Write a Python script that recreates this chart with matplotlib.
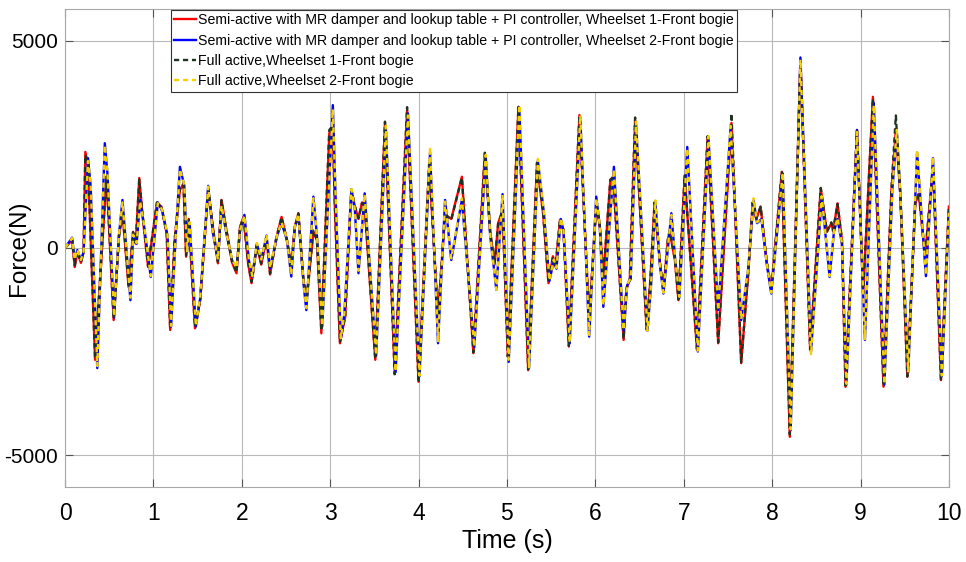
import matplotlib
matplotlib.use("Agg")
import matplotlib.pyplot as plt

# lateral force on the front bogie wheelsets
# wheelset 1 (semi-active red, full active dark green)
t_w1 = [0.00, 0.08, 0.11, 0.14, 0.18, 0.21, 0.23, 0.26, 0.34, 0.47, 0.55, 0.61, 0.65, 0.72,
        0.77, 0.80, 0.84, 0.88, 0.94, 1.04, 1.09, 1.15, 1.19, 1.24, 1.30, 1.34, 1.37, 1.40,
        1.47, 1.53, 1.62, 1.68, 1.73, 1.77, 1.83, 1.89, 1.94, 1.98, 2.02, 2.07, 2.11, 2.17,
        2.22, 2.28, 2.32, 2.39, 2.45, 2.51, 2.56, 2.60, 2.64, 2.70, 2.74, 2.81, 2.85, 2.90,
        2.99, 3.03, 3.05, 3.11, 3.17, 3.24, 3.28, 3.32, 3.36, 3.39, 3.51, 3.62, 3.73, 3.87,
        4.00, 4.12, 4.22, 4.30, 4.37, 4.49, 4.62, 4.75, 4.81, 4.86, 4.90, 4.95, 5.01, 5.13,
        5.24, 5.34, 5.41, 5.47, 5.52, 5.55, 5.60, 5.64, 5.70, 5.82, 5.93, 6.01, 6.05, 6.09,
        6.17, 6.20, 6.32, 6.35, 6.39, 6.45, 6.58, 6.62, 6.67, 6.73, 6.77, 6.82, 6.84, 6.90,
        6.94, 7.01, 7.15, 7.27, 7.39, 7.54, 7.65, 7.73, 7.78, 7.82, 7.87, 7.94, 7.99, 8.11,
        8.20, 8.32, 8.43, 8.55, 8.62, 8.67, 8.69, 8.74, 8.79, 8.83, 8.96, 9.03, 9.14, 9.26,
        9.35, 9.40, 9.45, 9.53, 9.62, 9.66, 9.73, 9.82, 9.91, 10.0]
semi_w1 = [0, 190, -460, -100, -360, -100, 2320, 2000, -2700, 1720, -1740, 270, 840, -950,
           390, 110, 1690, 720, -460, 1090, 1000, 350, -1980, 190, 1400, 1560, -210, 700,
           -1940, -1260, 1400, 390, -370, 1160, 390, -350, -610, 510, 750, -350, -850, 50,
           -400, 230, -640, 230, 750, 190, -400, 520, 840, -850, -1100, 390, 190, -2060,
           2770, 2900, 1160, -2300, -1660, 1400, 1000, 700, 1100, 1000, -2700, 3020, -3020, 3330,
           -3230, 2000, -1620, 800, 700, 1720, -2540, 2290, 390, -400, 600, 900, -2630, 3410,
           -2950, 2050, 800, -850, -200, -450, 680, 430, -2380, 3210, -1700, 1000, 540, -700,
           1640, 1720, -2220, -1000, -760, 3090, -1980, -860, 1090, -350, -1010, 190, 400, -290,
           -1260, 1720, -2460, 2680, -2300, 3020, -2780, -610, 1090, 700, 990, -350, -1010, 1840,
           -4560, 4540, -2460, 1440, 390, 600, 400, 1080, 190, -3350, 2850, -1090, 3650, -3350,
           1400, 2850, 1300, -3110, 1080, 1300, -210, 1950, -3190, 1000]
full_w1 = [0, 200, -420, -80, -340, -80, 2250, 2050, -2650, 1750, -1700, 280, 900, -900,
           380, 120, 1650, 740, -440, 1100, 980, 360, -1950, 200, 1450, 1540, -180, 680,
           -1900, -1230, 1420, 400, -350, 1150, 380, -330, -590, 500, 740, -330, -820, 60,
           -380, 240, -620, 240, 740, 200, -420, 500, 830, -830, -1150, 420, 200, -2000,
           2850, 2950, 1200, -2280, -1640, 1420, 1000, 720, 1080, 1020, -2680, 3050, -3050, 3400,
           -3250, 2050, -1650, 820, 680, 1700, -2520, 2300, 400, -380, 580, 900, -2620, 3400,
           -2930, 2060, 820, -830, -220, -430, 700, 440, -2360, 3200, -1720, 1020, 560, -720,
           1650, 1700, -2200, -980, -740, 3150, -1960, -840, 1100, -330, -990, 200, 420, -270,
           -1240, 1750, -2440, 2700, -2280, 3250, -2760, -600, 1100, 720, 1000, -330, -990, 1850,
           -4500, 4520, -2440, 1450, 400, 620, 420, 1060, 200, -3320, 2860, -1100, 3600, -3320,
           1420, 3200, 1320, -3100, 1100, 1320, -200, 1980, -3170, 1000]

# wheelset 2 (semi-active blue, full active yellow)
t_w2 = [0.00, 0.08, 0.11, 0.14, 0.18, 0.21, 0.26, 0.29, 0.365, 0.45, 0.48, 0.555, 0.61, 0.65,
        0.74, 0.77, 0.81, 0.85, 0.89, 0.97, 1.05, 1.10, 1.16, 1.20, 1.25, 1.30, 1.35, 1.38,
        1.41, 1.48, 1.53, 1.62, 1.67, 1.73, 1.77, 1.83, 1.89, 1.94, 1.98, 2.03, 2.08, 2.12,
        2.17, 2.22, 2.28, 2.32, 2.40, 2.45, 2.51, 2.56, 2.60, 2.64, 2.70, 2.73, 2.81, 2.85,
        2.91, 3.03, 3.06, 3.12, 3.16, 3.24, 3.28, 3.32, 3.39, 3.52, 3.63, 3.74, 3.88, 4.01,
        4.13, 4.22, 4.30, 4.37, 4.49, 4.63, 4.76, 4.81, 4.88, 4.95, 5.02, 5.14, 5.25, 5.35,
        5.42, 5.48, 5.53, 5.56, 5.61, 5.64, 5.71, 5.83, 5.93, 6.01, 6.05, 6.09, 6.21, 6.32,
        6.36, 6.40, 6.46, 6.59, 6.63, 6.68, 6.73, 6.77, 6.83, 6.86, 6.90, 6.95, 7.04, 7.16,
        7.28, 7.39, 7.53, 7.65, 7.73, 7.79, 7.83, 7.88, 7.94, 7.99, 8.12, 8.21, 8.32, 8.44,
        8.56, 8.60, 8.65, 8.70, 8.74, 8.79, 8.84, 8.96, 9.05, 9.15, 9.27, 9.36, 9.41, 9.45,
        9.54, 9.64, 9.74, 9.82, 9.92, 10.0]
semi_w2 = [0, 250, -300, -50, -300, -100, 2170, 1500, -2900, 2530, 1800, -1680, 300, 1160,
           -1260, 300, 100, 1160, 600, -700, 1100, 900, 300, -1900, 200, 1960, 1500, -100,
           600, -1900, -1200, 1500, 400, -300, 1000, 300, -300, -500, 400, 800, -300, -700,
           100, -300, 300, -500, 300, 600, 200, -690, 500, 800, -900, -1500, 1240, 300,
           -1900, 3450, 1300, -2200, -1600, 1400, 900, -610, 1320, -2600, 2900, -3000, 3250, -3100,
           2300, -2300, 1160, -290, 1160, -2400, 2200, 300, -1010, 1300, -2750, 3350, -2900, 2100,
           800, -800, -300, -500, 700, 400, -2300, 3150, -2140, 1240, 540, -1420, 1960, -2000,
           -900, -750, 3000, -2000, -900, 1100, -400, -1100, 200, 840, -200, -1200, 2440, -2500,
           2650, -1500, 2900, -1740, -500, 1150, 600, 700, -400, -1100, 1800, -4400, 4600, -2500,
           1200, 400, -700, 400, 700, 100, -3300, 2850, -2220, 3500, -3300, 1400, 2800, 1300,
           -3000, 2300, -680, 2170, -3100, 800]
full_w2 = [0, 240, -280, -40, -290, -90, 2100, 1550, -2850, 2480, 1850, -1650, 320, 1100,
           -1200, 320, 120, 1120, 620, -680, 1080, 920, 320, -1880, 220, 1900, 1520, -80,
           620, -1880, -1180, 1480, 420, -280, 1020, 320, -280, -480, 420, 780, -280, -680,
           120, -280, 320, -480, 320, 620, 220, -650, 520, 820, -880, -1450, 1200, 320,
           -1880, 3350, 1350, -2180, -1580, 1420, 920, -550, 1300, -2580, 2950, -2980, 3200, -3080,
           2440, -2250, 1120, -250, 1200, -2380, 2250, 320, -1010, 1280, -2700, 3450, -2880, 2150,
           820, -780, -280, -480, 720, 420, -2280, 3200, -2100, 1200, 560, -1380, 1900, -1980,
           -880, -730, 3050, -2000, -880, 1150, -380, -1080, 220, 800, -180, -1180, 2400, -2480,
           2700, -1500, 2950, -1720, -480, 1200, 620, 720, -380, -1080, 1820, -4380, 4550, -2590,
           1250, 420, -680, 420, 720, 120, -3280, 2800, -2200, 3450, -3280, 1420, 2850, 1320,
           -2980, 2370, -650, 2200, -3080, 850]

labels = ["Semi-active with MR damper and lookup table + PI controller, Wheelset 1-Front bogie",
          "Semi-active with MR damper and lookup table + PI controller, Wheelset 2-Front bogie",
          "Full active,Wheelset 1-Front bogie",
          "Full active,Wheelset 2-Front bogie"]
x_ticks = [0, 1, 2, 3, 4, 5, 6, 7, 8, 9, 10]
y_ticks = [-5000, 0, 5000]

plt.rcParams["font.family"] = ["Liberation Sans", "DejaVu Sans"]
plt.rcParams["axes.unicode_minus"] = False

fig = plt.figure(figsize=(9.66, 5.62), dpi=100)
ax = fig.add_axes([0.0673, 0.1335, 0.915, 0.8505])

dash = (0, (2.2, 1.6))
ax.plot(t_w1, semi_w1, color="#ff0000", lw=1.7, label=labels[0])
ax.plot(t_w2, semi_w2, color="#0000ff", lw=1.7, label=labels[1])
ax.plot(t_w1, full_w1, color="#1f3320", lw=1.7, ls=dash, label=labels[2])
ax.plot(t_w2, full_w2, color="#f5d000", lw=1.7, ls=dash, label=labels[3])

ax.set_xlim(0, 10)
ax.set_ylim(-5770, 5770)
ax.set_xticks(x_ticks)
ax.set_yticks(y_ticks)
ax.grid(True, color="#b8b8b8", lw=0.8)
for s in ax.spines.values():
    s.set_color("#a8a8a8")
ax.tick_params(axis="both", direction="in", length=6, color="#555555", top=True, right=True)
ax.tick_params(axis="x", pad=11, labelsize=16.5)
ax.tick_params(axis="y", pad=5, labelsize=15)

ax.set_xlabel("Time (s)", fontsize=18, labelpad=3)
ax.set_ylabel("Force(N)", fontsize=17.5)
ax.yaxis.set_label_coords(-0.04, 0.5)

leg = ax.legend(loc="upper left", bbox_to_anchor=(0.119, 1.0), borderaxespad=0.05,
                fontsize=10.2, handlelength=1.5, handletextpad=0.15,
                labelspacing=0.45, borderpad=0.25, fancybox=False, framealpha=1,
                edgecolor="#333333")
leg.get_frame().set_linewidth(0.8)

fig.savefig("out.png", dpi=100)
